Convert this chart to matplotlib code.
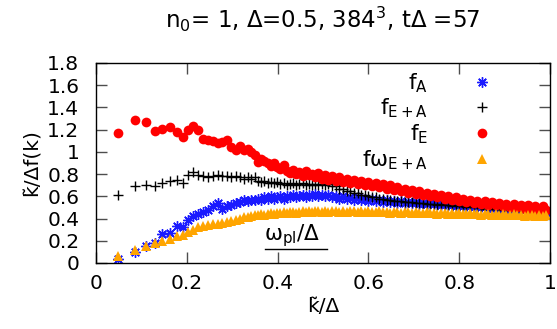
import matplotlib
matplotlib.use("Agg")
import matplotlib.pyplot as plt
from matplotlib.lines import Line2D

plt.rcParams['font.family'] = ['DejaVu Sans']
plt.rcParams['mathtext.fontset'] = 'dejavusans'

# ---- data ----
k_values = [
    0.049, 0.085, 0.110, 0.130, 0.146, 0.162, 0.178, 0.191, 0.202, 0.214,
    0.225, 0.236, 0.247, 0.257, 0.268, 0.278, 0.288, 0.298, 0.308, 0.317,
    0.326, 0.334, 0.342, 0.350, 0.357,
    0.364, 0.371, 0.378, 0.385, 0.392, 0.399, 0.406, 0.413, 0.420, 0.427,
    0.434, 0.441, 0.448, 0.455, 0.462, 0.469, 0.476, 0.483, 0.490, 0.497,
    0.504, 0.512, 0.520, 0.528, 0.536, 0.544, 0.552, 0.560, 0.568, 0.576,
    0.584, 0.592, 0.600, 0.608, 0.616, 0.624, 0.632, 0.640, 0.648, 0.656,
    0.664, 0.672, 0.680, 0.688, 0.696, 0.704, 0.712, 0.720, 0.728, 0.736,
    0.744, 0.752, 0.760, 0.768, 0.776, 0.784, 0.792, 0.800, 0.808, 0.816,
    0.824, 0.832, 0.840, 0.848, 0.856, 0.864, 0.872, 0.880, 0.888, 0.896,
    0.904, 0.912, 0.920, 0.928, 0.936, 0.944, 0.952, 0.960, 0.968, 0.976,
    0.984, 0.992,
]

f_A = [
    0.04, 0.10, 0.15, 0.18, 0.26, 0.27, 0.33, 0.32, 0.39, 0.42,
    0.44, 0.46, 0.48, 0.51, 0.54, 0.49, 0.51, 0.52, 0.54, 0.55,
    0.57, 0.56, 0.57, 0.57, 0.58,
    0.57, 0.59, 0.58, 0.60, 0.58, 0.59, 0.60, 0.58, 0.60, 0.59,
    0.61, 0.59, 0.60, 0.61, 0.59, 0.61, 0.60, 0.62, 0.60, 0.61,
    0.60, 0.61, 0.59, 0.60, 0.58, 0.60, 0.58, 0.59, 0.57, 0.59,
    0.57, 0.58, 0.56, 0.58, 0.56, 0.57, 0.55, 0.57, 0.55, 0.56,
    0.54, 0.56, 0.54, 0.55, 0.54, 0.55, 0.53, 0.54, 0.53, 0.54,
    0.53, 0.53, 0.52, 0.53, 0.52, 0.52, 0.51, 0.52, 0.51, 0.51,
    0.51, 0.50, 0.51, 0.50, 0.50, 0.50, 0.49, 0.50, 0.49, 0.49,
    0.49, 0.48, 0.49, 0.48, 0.48, 0.48, 0.47, 0.48, 0.47, 0.47,
    0.47, 0.46,
]

f_EA = [
    0.61, 0.69, 0.70, 0.69, 0.72, 0.74, 0.75, 0.72, 0.79, 0.82,
    0.79, 0.78, 0.77, 0.78, 0.79, 0.78, 0.78, 0.77, 0.78, 0.77,
    0.76, 0.77, 0.76, 0.77, 0.74,
    0.73, 0.74, 0.72, 0.73, 0.72, 0.73, 0.71, 0.72, 0.70, 0.71,
    0.72, 0.70, 0.71, 0.72, 0.70, 0.71, 0.70, 0.71, 0.70, 0.71,
    0.70, 0.71, 0.69, 0.69, 0.67, 0.67, 0.65, 0.65, 0.63, 0.63,
    0.61, 0.61, 0.60, 0.59, 0.59, 0.58, 0.58, 0.57, 0.57, 0.56,
    0.56, 0.56, 0.55, 0.55, 0.55, 0.54, 0.54, 0.54, 0.53, 0.53,
    0.53, 0.52, 0.53, 0.52, 0.52, 0.51, 0.52, 0.51, 0.51, 0.50,
    0.51, 0.50, 0.50, 0.50, 0.49, 0.50, 0.49, 0.49, 0.49, 0.48,
    0.49, 0.48, 0.48, 0.48, 0.47, 0.48, 0.47, 0.47, 0.47, 0.46,
    0.47, 0.46,
]

f_E = [
    1.17, 1.29, 1.27, 1.19, 1.21, 1.22, 1.18, 1.13, 1.20, 1.23,
    1.20, 1.12, 1.11, 1.10, 1.08, 1.09, 1.11, 1.04, 1.02, 1.05,
    1.02, 1.03, 1.00, 0.97, 0.91,
    0.94, 0.92, 0.90, 0.87, 0.90, 0.86, 0.85, 0.88, 0.83, 0.81,
    0.84, 0.80, 0.82, 0.78, 0.83, 0.79, 0.80, 0.77, 0.81, 0.76,
    0.79, 0.75, 0.78, 0.74, 0.77, 0.73, 0.76, 0.72, 0.75, 0.71,
    0.74, 0.70, 0.73, 0.69, 0.72, 0.68, 0.71, 0.67, 0.70, 0.66,
    0.68, 0.65, 0.67, 0.63, 0.66, 0.62, 0.65, 0.61, 0.63, 0.60,
    0.62, 0.59, 0.61, 0.58, 0.60, 0.57, 0.59, 0.56, 0.58, 0.55,
    0.57, 0.54, 0.56, 0.53, 0.56, 0.52, 0.55, 0.52, 0.54, 0.51,
    0.53, 0.50, 0.53, 0.50, 0.52, 0.49, 0.52, 0.49, 0.51, 0.48,
    0.51, 0.48,
]

f_wEA = [
    0.06, 0.12, 0.15, 0.18, 0.20, 0.22, 0.24, 0.25, 0.28, 0.30,
    0.32, 0.33, 0.34, 0.35, 0.35, 0.36, 0.37, 0.38, 0.39, 0.40,
    0.41, 0.41, 0.42, 0.43, 0.43,
    0.44, 0.43, 0.44, 0.45, 0.44, 0.45, 0.45, 0.46, 0.45, 0.46,
    0.46, 0.45, 0.46, 0.47, 0.46, 0.47, 0.46, 0.47, 0.47, 0.46,
    0.47, 0.46, 0.47, 0.47, 0.46, 0.47, 0.46, 0.47, 0.47, 0.46,
    0.47, 0.46, 0.47, 0.46, 0.46, 0.47, 0.46, 0.46, 0.45, 0.46,
    0.46, 0.45, 0.46, 0.46, 0.45, 0.46, 0.45, 0.45, 0.46, 0.45,
    0.45, 0.44, 0.45, 0.45, 0.44, 0.45, 0.44, 0.45, 0.44, 0.44,
    0.45, 0.44, 0.44, 0.43, 0.44, 0.44, 0.43, 0.44, 0.43, 0.44,
    0.43, 0.43, 0.44, 0.43, 0.43, 0.42, 0.43, 0.43, 0.42, 0.43,
    0.42, 0.43,
]

x_ticks = [0, 0.2, 0.4, 0.6, 0.8, 1]
x_tick_labels = ["0", "0.2", "0.4", "0.6", "0.8", "1"]
y_ticks = [0, 0.2, 0.4, 0.6, 0.8, 1.0, 1.2, 1.4, 1.6, 1.8]
y_tick_labels = ["0", "0.2", "0.4", "0.6", "0.8", "1", "1.2", "1.4", "1.6", "1.8"]

title = "n$_0$= 1, Δ=0.5, 384$^3$, tΔ =57"

FS = 14.5

fig = plt.figure(figsize=(5.57, 3.29), dpi=100)
ax = fig.add_axes([96 / 557, 66 / 329, 454 / 557, 200 / 329])

ax.plot(k_values, f_A, linestyle='none', marker=(8, 2, 0), markersize=7.5,
        markeredgewidth=1.0, color='#1a1aff', label=r'f$_\mathrm{A}$')
ax.plot(k_values, f_EA, linestyle='none', marker='+', markersize=7,
        markeredgewidth=1.0, color='black', label=r'f$_\mathrm{E+A}$')
ax.plot(k_values, f_E, linestyle='none', marker='o', markersize=7,
        markeredgewidth=0, color='#ff0000', label=r'f$_\mathrm{E}$')
ax.plot(k_values, f_wEA, linestyle='none', marker='^', markersize=6.5,
        markeredgewidth=0, color='#ffa500', label=r'fω$_\mathrm{E+A}$')

ax.set_xlim(0, 1)
ax.set_ylim(0, 1.8)
ax.set_xticks(x_ticks)
ax.set_xticklabels(x_tick_labels)
ax.set_yticks(y_ticks)
ax.set_yticklabels(y_tick_labels)
ax.tick_params(direction='in', length=8, width=1, color='0.3',
               top=True, right=True, labelsize=FS)
ax.tick_params(axis='y', pad=12)
ax.tick_params(axis='x', pad=8)
for s in ax.spines.values():
    s.set_linewidth(1)
    s.set_color('black')

leg = ax.legend(loc='upper right', bbox_to_anchor=(0.93, 1.035),
                frameon=False, markerfirst=False, numpoints=1,
                fontsize=15.5, handlelength=2.0, handletextpad=1.5,
                labelspacing=0.1, borderaxespad=0.3)

ax.set_xlabel("k\u0303/Δ", fontsize=FS, labelpad=3)
ax.set_ylabel("k\u0303/Δf(k)", fontsize=FS, labelpad=4)

fig.text(0.578, 0.94, title, fontsize=16.5, ha='center', va='center')

ax.text(0.369, 0.112, "ω$_\\mathrm{pl}$/Δ", fontsize=15.5, ha='left',
        va='baseline', transform=ax.transAxes)
ax.add_line(Line2D([0.372, 0.509], [0.07, 0.07], color='black', lw=1,
                   transform=ax.transAxes))

fig.savefig("out.png", dpi=100)
